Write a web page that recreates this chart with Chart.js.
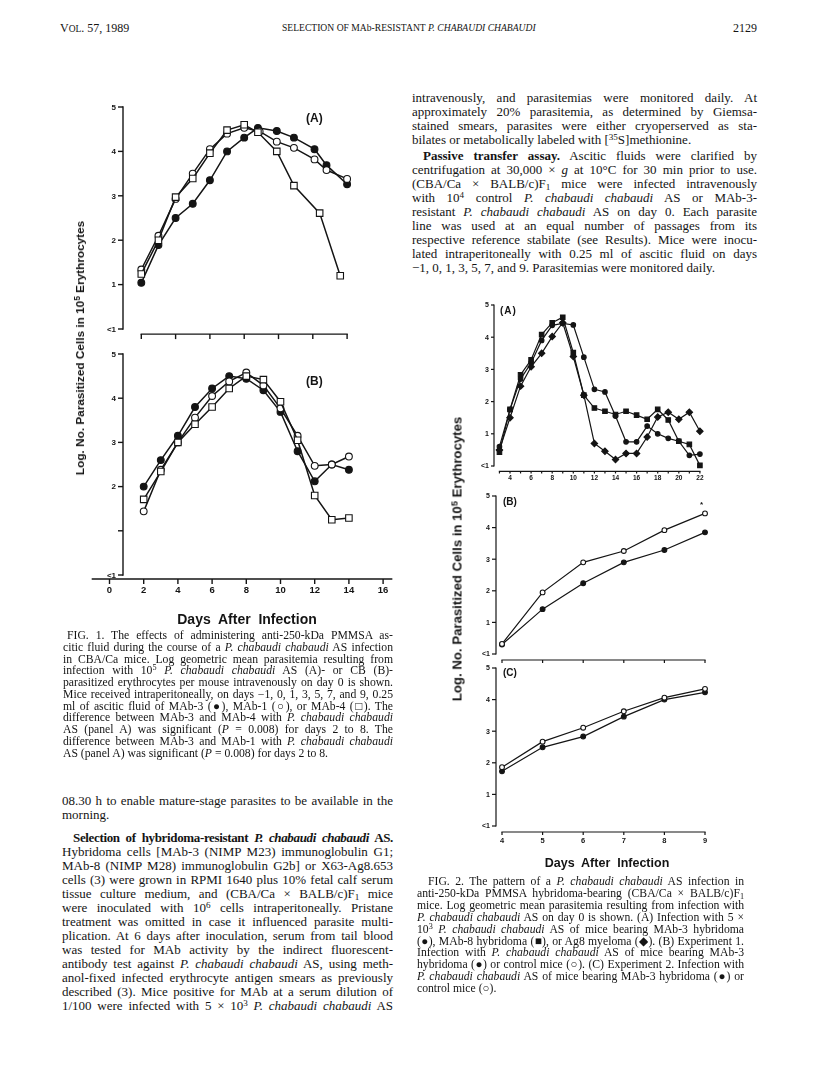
<!DOCTYPE html>
<html><head><meta charset="utf-8">
<script src="https://cdn.jsdelivr.net/npm/chart.js@4.4.0/dist/chart.umd.min.js"></script>
<style>
html,body{margin:0;padding:0;background:#fff;}
body{width:816px;height:1080px;position:relative;overflow:hidden;font-family:"Liberation Serif","Times New Roman",serif;color:#141414;}
canvas{position:absolute;}
.t{position:absolute;white-space:nowrap;}
.ln{position:absolute;font-size:13px;line-height:14px;height:14px;text-align:justify;text-align-last:justify;}
.ln.last{text-align-last:left;}
.cap{font-size:11.7px;line-height:12px;height:12px;}
.sans{font-family:"Liberation Sans",Arial,sans-serif;font-weight:bold;}
sup{font-size:70%;line-height:0;vertical-align:0.45em;}
sub{font-size:70%;line-height:0;vertical-align:-0.25em;}
.rot{position:absolute;white-space:nowrap;transform:translate(-50%,-50%) rotate(-90deg);}
.tight{letter-spacing:-0.35px;white-space:nowrap;}
</style></head><body>
<script>
// ---------------- DATA ----------------
// Fig. 1 (A) – CBA/Ca mice, AS infection
const f1aDaysMab3 = [2,3,4,5,6,7,8,8.8,9.9,10.9,12.1,12.8,14];
const f1aMab3     = [1.04,1.89,2.5,2.82,3.35,4.0,4.31,4.53,4.46,4.31,4.05,3.69,3.26];
const f1aDaysMab1 = [2,3,4,5,6,7,8,8.9,9.9,10.9,12.1,12.8,14];
const f1aMab1     = [1.34,2.1,2.93,3.5,4.05,4.4,4.53,4.45,4.22,4.08,3.82,3.58,3.38];
const f1aDaysMab4 = [2,3,4,5,6,7,8,8.8,9.9,10.9,12.4,13.6];
const f1aMab4     = [1.24,2.0,2.97,3.39,3.96,4.48,4.6,4.43,4.0,3.23,2.61,1.2];
// Fig. 1 (B) – CB infection
const f1bDays = [2,3,4,5,6,7,8,9,10,11,12,13,14];
const f1bMab3 = [2.0,2.6,3.15,3.8,4.22,4.5,4.44,4.18,3.69,2.8,2.12,2.5,2.38];
const f1bMab1 = [1.44,2.38,3.0,3.56,4.05,4.38,4.58,4.29,3.77,3.15,2.47,2.5,2.68];
const f1bMab4 = [1.71,2.34,3.0,3.41,3.8,4.22,4.5,4.42,3.92,3.05,1.8,1.25,1.29];
// Fig. 2 (A)
const f2aDays = [3,4,5,6,7,8,9,10,11,12,13,14,15,16,17,18,19,20,21,22];
const f2aMab3 = [0.6,1.75,2.7,3.2,3.9,4.37,4.43,4.38,3.38,2.38,2.3,1.55,0.75,0.75,1.24,1.0,0.86,0.77,0.33,0.37];
const f2aMab8 = [0.43,1.76,2.83,3.3,4.08,4.45,4.62,3.52,2.2,1.8,1.7,1.6,1.7,1.58,1.45,1.76,1.43,0.77,0.67,0.02];
const f2aAg8  = [0.5,1.5,2.48,3.08,3.5,4.02,4.45,3.4,2.2,0.7,0.46,0.2,0.39,0.39,0.9,1.52,1.67,1.45,1.67,1.08];
// Fig. 2 (B) Experiment 1
const f2bDays    = [4,5,6,7,8,9];
const f2bMab3    = [0.3,1.42,2.24,2.9,3.29,3.85];
const f2bControl = [0.32,1.95,2.9,3.26,3.92,4.45];
// Fig. 2 (C) Experiment 2
const f2cDays    = [4,5,6,7,8,9];
const f2cMab3    = [1.73,2.49,2.83,3.46,4.0,4.23];
const f2cControl = [1.86,2.67,3.11,3.63,4.06,4.34];
// Tick labels
const yTickVals   = [5,4,3,2,1,0];
const yTickLabsA  = ['5','4','3','2','1','<1'];
const yTickLabsB  = ['5','4','3','2','','<1'];
const f1xTicks    = [0,2,4,6,8,10,12,14,16];
const f1aXTicks   = [2,4,6,8,10,12,14];
const f2aXTicks   = [3,4,5,6,7,8,9,10,11,12,13,14,15,16,17,18,19,20,21,22];
const f2aXLabels  = [4,6,8,10,12,14,16,18,20,22];
const f2bcXTicks  = [4,5,6,7,8,9];

// ---------------- HELPERS ----------------
const INK = '#141414';
const pts = (xs, ys) => xs.map((x,i)=>({x:x, y:ys[i]}));
const paperAxes = {
  id:'paperAxes',
  beforeDatasetsDraw(chart){
    const o = chart.options.plugins.paperAxes; if(!o) return;
    const ctx = chart.ctx, xs = chart.scales.x, ys = chart.scales.y;
    ctx.save();
    ctx.strokeStyle = INK; ctx.fillStyle = INK; ctx.lineWidth = o.lw; ctx.lineCap='butt';
    const L = (a,b,c,d)=>{ctx.beginPath();ctx.moveTo(a,b);ctx.lineTo(c,d);ctx.stroke();};
    const yx = xs.getPixelForValue(o.yAxisAt);
    L(yx, ys.getPixelForValue(5)-o.lw/2, yx, ys.getPixelForValue(0)+o.lw/2);
    ctx.font = o.yFont; ctx.textAlign='right'; ctx.textBaseline='middle';
    yTickVals.forEach((v,i)=>{
      const py = ys.getPixelForValue(v);
      L(yx-o.yTickLen, py, yx, py);
      if(o.yLabels[i]) ctx.fillText(o.yLabels[i], yx-o.yTickLen-2, py+0.5);
    });
    const xy = ys.getPixelForValue(o.xAxisAt);
    L(xs.getPixelForValue(o.xFrom)-o.lw/2, xy, xs.getPixelForValue(o.xTo)+o.lw/2, xy);
    o.xTicks.forEach(v=>{const px=xs.getPixelForValue(v); L(px, xy, px, xy+o.xTickLen);});
    ctx.font = o.xFont; ctx.textAlign='center'; ctx.textBaseline='top';
    (o.xLabels||[]).forEach(v=>{ctx.fillText(String(v), xs.getPixelForValue(v), xy+o.xLabelGap);});
    ctx.restore();
  }
};
function ds(data, style, filled, r, lw){
  return {data, borderColor:INK, borderWidth:lw, pointStyle:style, pointRadius:r, pointHoverRadius:r,
    pointBackgroundColor: filled?INK:'#fff', pointBorderColor:INK, pointBorderWidth:1.1,
    tension:0, clip:false, fill:false};
}
function panel(box, area, xMin, xMax, datasets, axes){
  const c = document.createElement('canvas');
  c.width = box.w; c.height = box.h;
  c.style.left = box.l+'px'; c.style.top = box.t+'px';
  c.style.width = box.w+'px'; c.style.height = box.h+'px';
  document.body.appendChild(c);
  new Chart(c.getContext('2d'), {
    type:'line',
    data:{datasets},
    options:{
      responsive:false, animation:false, devicePixelRatio:1,
      layout:{padding:{left:area.L-box.l, right:box.l+box.w-area.R, top:area.T-box.t, bottom:box.t+box.h-area.B}},
      scales:{
        x:{type:'linear', min:xMin, max:xMax, display:false},
        y:{type:'linear', min:0, max:5, display:false}
      },
      plugins:{legend:{display:false}, tooltip:{enabled:false}, paperAxes:axes}
    },
    plugins:[paperAxes]
  });
}
function txt(html, x, y, cls, style){
  const d=document.createElement('div'); d.className='t '+(cls||''); d.innerHTML=html;
  d.style.left=x+'px'; d.style.top=y+'px'; if(style) d.style.cssText+=style;
  document.body.appendChild(d); return d;
}
function rot(html, cx, cy, style){
  const d=document.createElement('div'); d.className='rot sans'; d.innerHTML=html;
  d.style.left=cx+'px'; d.style.top=cy+'px'; d.style.cssText+=style; document.body.appendChild(d);
}
function block(lines, x, w, top, lh, indent, extra){
  lines.forEach((s,i)=>{
    let ind = 0, last = false;
    if(s[0]==='>'){ind=indent; s=s.slice(1);}
    if(s.endsWith('|')){last=true; s=s.slice(0,-1);}
    const d=document.createElement('div');
    d.className='ln '+(extra||'')+(last?' last':'');
    d.style.left=(x+ind)+'px'; d.style.width=(w-ind)+'px'; d.style.top=(top+i*lh)+'px';
    d.innerHTML=s; document.body.appendChild(d);
  });
}

// ---------------- FIG. 1 ----------------
const f1lw = 1.5;
panel({l:40,t:95,w:360,h:250}, {L:123,R:107+16.5*17.15,T:107,B:329}, 16/17.15, 16.5, [
  ds(pts(f1aDaysMab4,f1aMab4),'rect',false,4.6,f1lw),
  ds(pts(f1aDaysMab1,f1aMab1),'circle',false,3.4,f1lw),
  ds(pts(f1aDaysMab3,f1aMab3),'circle',true,3.4,f1lw)
], {lw:1.4, yAxisAt:16/17.15, yLabels:yTickLabsA, yTickLen:5, yFont:'bold 8px "Liberation Sans"',
    xAxisAt:-0.115, xFrom:2, xTo:14, xTicks:f1aXTicks, xTickLen:5});
panel({l:40,t:340,w:360,h:270}, {L:123,R:109.5+16.5*17.1,T:354,B:575}, 13.5/17.1, 16.5, [
  ds(pts(f1bDays,f1bMab4),'rect',false,4.6,f1lw),
  ds(pts(f1bDays,f1bMab1),'circle',false,3.4,f1lw),
  ds(pts(f1bDays,f1bMab3),'circle',true,3.4,f1lw)
], {lw:1.4, yAxisAt:13.5/17.1, yLabels:yTickLabsB, yTickLen:5, yFont:'bold 8px "Liberation Sans"',
    xAxisAt:-0.09, xFrom:-1.0, xTo:16.5, xTicks:f1xTicks, xTickLen:5,
    xLabels:f1xTicks, xFont:'bold 9.5px "Liberation Sans"', xLabelGap:7});

txt('(A)', 306, 111, 'sans', 'font-size:12px;');
txt('(B)', 306, 374, 'sans', 'font-size:12px;');
txt('Days&nbsp; After&nbsp; Infection', 247, 611, 'sans', 'font-size:14px;transform:translateX(-50%);');
rot('Log. No. Parasitized Cells in 10<sup>5</sup> Erythrocytes', 80, 348, 'font-size:11.8px;');

// ---------------- FIG. 2 ----------------
const f2lw = 1.2;
panel({l:455,t:295,w:300,h:195}, {L:494,R:467.8+22.6*10.55,T:305,B:466}, (494-467.8)/10.55, 22.6, [
  ds(pts(f2aDays,f2aAg8),'rectRot',true,3.2,f2lw),
  ds(pts(f2aDays,f2aMab3),'circle',true,2.3,f2lw),
  ds(pts(f2aDays,f2aMab8),'rect',true,3.2,f2lw)
], {lw:1.2, yAxisAt:(494-467.8)/10.55, yLabels:yTickLabsA, yTickLen:3, yFont:'bold 7px "Liberation Sans"',
    xAxisAt:-0.17, xFrom:3, xTo:22, xTicks:f2aXTicks, xTickLen:2,
    xLabels:f2aXLabels, xFont:'bold 6.5px "Liberation Sans"', xLabelGap:3});
panel({l:455,t:486,w:300,h:180}, {L:496,R:339.6+9.3*40.6,T:496,B:654}, (496-339.6)/40.6, 9.3, [
  ds(pts(f2bDays,f2bControl),'circle',false,2.4,f2lw),
  ds(pts(f2bDays,f2bMab3),'circle',true,2.4,f2lw)
], {lw:1.2, yAxisAt:(496-339.6)/40.6, yLabels:yTickLabsA, yTickLen:4, yFont:'bold 7px "Liberation Sans"',
    xAxisAt:-0.19, xFrom:4, xTo:9, xTicks:f2bcXTicks, xTickLen:3});
panel({l:455,t:660,w:300,h:200}, {L:496,R:339.6+9.3*40.6,T:668,B:826}, (496-339.6)/40.6, 9.3, [
  ds(pts(f2cDays,f2cControl),'circle',false,2.4,f2lw),
  ds(pts(f2cDays,f2cMab3),'circle',true,2.4,f2lw)
], {lw:1.2, yAxisAt:(496-339.6)/40.6, yLabels:yTickLabsA, yTickLen:4, yFont:'bold 7px "Liberation Sans"',
    xAxisAt:-0.19, xFrom:4, xTo:9, xTicks:f2bcXTicks, xTickLen:3,
    xLabels:f2bcXTicks, xFont:'bold 7.5px "Liberation Sans"', xLabelGap:5});

txt('(A)', 500, 305, 'sans', 'font-size:10px;letter-spacing:1px;');
txt('(B)', 503, 496, 'sans', 'font-size:10px;');
txt('(C)', 503, 667, 'sans', 'font-size:10px;');
txt('*', 700, 500, 'sans', 'font-size:8px;');
txt('Days&nbsp; After&nbsp; Infection', 607, 856, 'sans', 'font-size:12.5px;transform:translateX(-50%);');
rot('Log. No. Parasitized Cells in 10<sup>5</sup> Erythrocytes', 457, 559, 'font-size:13.2px;');

// ---------------- PAGE TEXT ----------------
txt('V<span style="font-size:9.5px">OL</span>. 57, 1989', 60, 21, '', 'font-size:12px;');
txt('SELECTION OF MAb-RESISTANT <i>P. CHABAUDI CHABAUDI</i>', 282, 22, '', 'font-size:9.6px;');
txt('2129', 733, 21, '', 'font-size:12px;');

block([
 'intravenously, and parasitemias were monitored daily. At',
 'approximately 20% parasitemia, as determined by Giemsa-',
 'stained smears, parasites were either cryoperserved as sta-',
 'bilates or metabolically labeled with [<sup>35</sup>S]methionine.|'
], 412, 345, 91, 14, 11);
block([
 '><b>Passive transfer assay.</b> Ascitic fluids were clarified by',
 'centrifugation at 30,000 × <i>g</i> at 10°C for 30 min prior to use.',
 '(CBA/Ca × BALB/c)F<sub>1</sub> mice were infected intravenously',
 'with 10<sup>4</sup> control <i>P. chabaudi chabaudi</i> AS or MAb-3-',
 'resistant <i>P. chabaudi chabaudi</i> AS on day 0. Each parasite',
 'line was used at an equal number of passages from its',
 'respective reference stabilate (see Results). Mice were inocu-',
 'lated intraperitoneally with 0.25 ml of ascitic fluid on days',
 '−1, 0, 1, 3, 5, 7, and 9. Parasitemias were monitored daily.|'
], 412, 345, 149, 14, 11);

block([
 '>FIG. 1. The effects of administering anti-250-kDa PMMSA as-',
 'citic fluid during the course of a <i>P. chabaudi chabaudi</i> AS infection',
 'in CBA/Ca mice. Log geometric mean parasitemia resulting from',
 'infection with 10<sup>5</sup> <i>P. chabaudi chabaudi</i> AS (A)- or CB (B)-',
 'parasitized erythrocytes per mouse intravenously on day 0 is shown.',
 'Mice received intraperitoneally, on days −1, 0, 1, 3, 5, 7, and 9, 0.25',
 'ml of ascitic fluid of MAb-3 (●), MAb-1 (○), or MAb-4 (□). The',
 'difference between MAb-3 and MAb-4 with <i>P. chabaudi chabaudi</i>',
 'AS (panel A) was significant (<i>P</i> = 0.008) for days 2 to 8. The',
 'difference between MAb-3 and MAb-1 with <i>P. chabaudi chabaudi</i>',
 'AS (panel A) was significant (<i>P</i> = 0.008) for days 2 to 8.|'
], 63, 330, 630, 11.75, 4, 'cap');

block([
 '08.30 h to enable mature-stage parasites to be available in the',
 'morning.|'
], 62, 331, 794, 14, 11);
block([
 '><b class="tight">Selection of hybridoma-resistant <i>P. chabaudi chabaudi</i> AS.</b>',
 'Hybridoma cells [MAb-3 (NIMP M23) immunoglobulin G1;',
 'MAb-8 (NIMP M28) immunoglobulin G2b] or X63-Ag8.653',
 'cells (3) were grown in RPMI 1640 plus 10% fetal calf serum',
 'tissue culture medium, and (CBA/Ca × BALB/c)F<sub>1</sub> mice',
 'were inoculated with 10<sup>6</sup> cells intraperitoneally. Pristane',
 'treatment was omitted in case it influenced parasite multi-',
 'plication. At 6 days after inoculation, serum from tail blood',
 'was tested for MAb activity by the indirect fluorescent-',
 'antibody test against <i>P. chabaudi chabaudi</i> AS, using meth-',
 'anol-fixed infected erythrocyte antigen smears as previously',
 'described (3). Mice positive for MAb at a serum dilution of',
 '1/100 were infected with 5 × 10<sup>3</sup> <i>P. chabaudi chabaudi</i> AS'
], 62, 331, 831, 14, 11);

block([
 '>FIG. 2. The pattern of a <i>P. chabaudi chabaudi</i> AS infection in',
 'anti-250-kDa PMMSA hybridoma-bearing (CBA/Ca × BALB/c)F<sub>1</sub>',
 'mice. Log geometric mean parasitemia resulting from infection with',
 '<i>P. chabaudi chabaudi</i> AS on day 0 is shown. (A) Infection with 5 ×',
 '10<sup>3</sup> <i>P. chabaudi chabaudi</i> AS of mice bearing MAb-3 hybridoma',
 '(●), MAb-8 hybridoma (■), or Ag8 myeloma (◆). (B) Experiment 1.',
 'Infection with <i>P. chabaudi chabaudi</i> AS of mice bearing MAb-3',
 'hybridoma (●) or control mice (○). (C) Experiment 2. Infection with',
 '<i>P. chabaudi chabaudi</i> AS of mice bearing MAb-3 hybridoma (●) or',
 'control mice (○).|'
], 417, 327, 876, 11.9, 11, 'cap');
</script>
</body></html>
